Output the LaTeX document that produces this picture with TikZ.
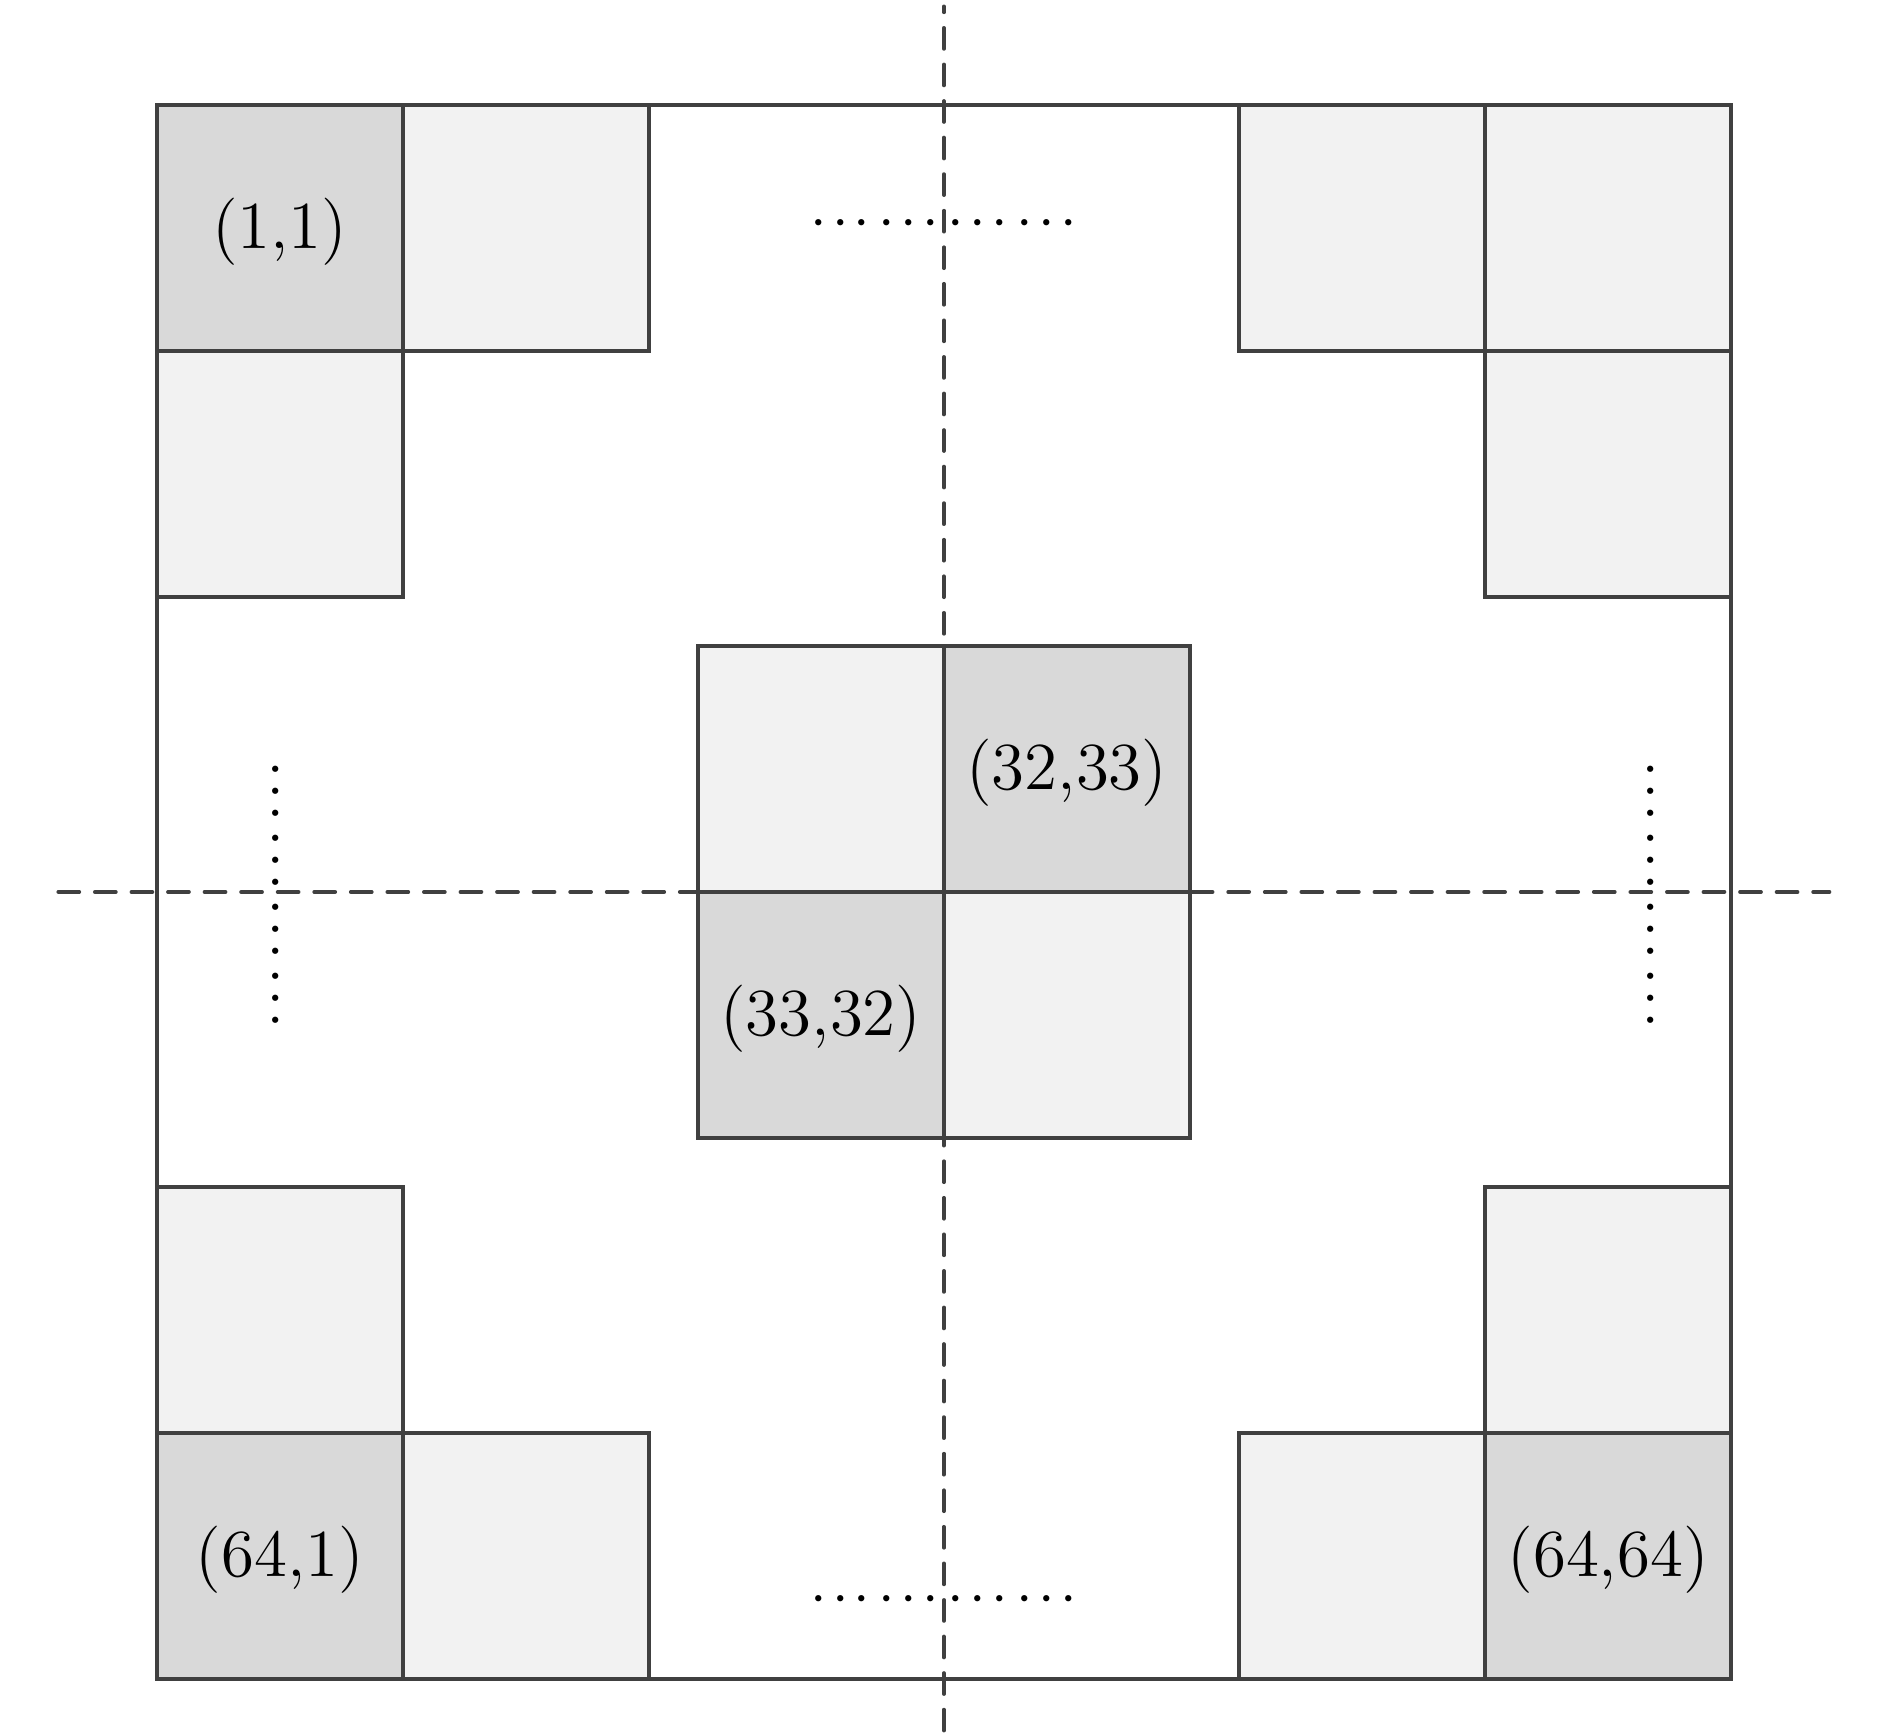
\documentclass[tikz,border=0pt]{standalone}
\usetikzlibrary{positioning}
% one group of three dots, and a row of four groups
\newcommand{\dotgroup}{{\cdot}\kern1.12pt{\cdot}\kern1.12pt{\cdot}}
\newcommand{\dotrow}{$\dotgroup\kern1.73pt\dotgroup\kern1.73pt\dotgroup\kern1.73pt\dotgroup$}
\begin{document}
\begin{tikzpicture}[x=1.75cm,y=1.75cm,
  cell/.style={draw=gridline,line width=0.75pt,minimum size=1.75cm,inner sep=0pt,outer sep=0pt,
    font=\fontsize{13.6}{16}\selectfont,text height=11.7pt,text depth=3.4pt},
  darkcell/.style={cell,fill=black!15},
  lightcell/.style={cell,fill=black!5},
  axis/.style={draw=gridline,line width=0.75pt,line cap=round,dash pattern=on 4.25pt off 3.15pt},
  dots/.style={inner sep=0pt,outer sep=0pt,font=\fontsize{12}{14}\selectfont}]
\colorlet{gridline}{black!75}
\useasboundingbox (-3.837,-3.431) rectangle (3.846,3.626);
% Whole 64x64 grid
\draw[gridline,line width=0.75pt] (-3.2,-3.2) rectangle (3.2,3.2);
% Top left corner
\node[darkcell] (c11) at (-2.7,2.7) {(1,1)};
\node[lightcell,right=0pt of c11] (c12) {};
\node[lightcell,below=0pt of c11] (c21) {};
% Top right corner
\node[lightcell] (c164) at (2.7,2.7) {};
\node[lightcell,left=0pt of c164] (c163) {};
\node[lightcell,below=0pt of c164] (c264) {};
% Bottom left corner
\node[darkcell] (c641) at (-2.7,-2.7) {(64,1)};
\node[lightcell,right=0pt of c641] (c642) {};
\node[lightcell,above=0pt of c641] (c631) {};
% Bottom right corner
\node[darkcell] (c6464) at (2.7,-2.7) {(64,64)};
\node[lightcell,left=0pt of c6464] (c6463) {};
\node[lightcell,above=0pt of c6464] (c6364) {};
% Centre block
\node[darkcell] (c3233) at (0.5,0.5) {(32,33)};
\node[lightcell,left=0pt of c3233] (c3232) {};
\node[darkcell] (c3332) at (-0.5,-0.5) {(33,32)};
\node[lightcell,right=0pt of c3332] (c3333) {};
% Symmetry axes
\coordinate (axl) at (-3.6,0);
\coordinate (axr) at (3.6,0);
\coordinate (axt) at (0,3.6);
\coordinate (axb) at (0,-3.6);
\draw[axis] (axl) -- (axr);
\draw[axis,dash phase=3.05pt] (axt) -- (axb);
% Skipped cells
\node[dots] (dtop) at (0,2.714) {\dotrow};
\node[dots] (dbot) at (0,-2.88) {\dotrow};
\node[dots,rotate=90] (dleft) at (-2.71,-0.01) {\dotrow};
\node[dots,rotate=90] (dright) at (2.88,-0.01) {\dotrow};
\end{tikzpicture}
\end{document}
